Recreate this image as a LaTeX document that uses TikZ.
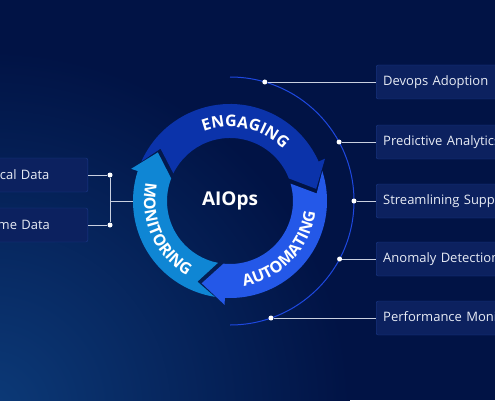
\documentclass[tikz,border=0pt]{standalone}
\usepackage{fontspec}
\setmainfont{Open Sans}
\usetikzlibrary{calc,decorations.text}

\definecolor{bgnavy}{HTML}{011345}
\definecolor{glow}{HTML}{0C3A78}
\definecolor{boxfill}{HTML}{0C215F}
\definecolor{boxedge}{HTML}{1B3A8A}
\definecolor{boxtext}{HTML}{E8ECF5}
\definecolor{linkgray}{HTML}{C9D0E0}
\definecolor{arcblue}{HTML}{1E48E0}
\definecolor{engblue}{HTML}{0B33AA}
\definecolor{autblue}{HTML}{2458E8}
\definecolor{monblue}{HTML}{0F86D4}

\tikzset{
  databox/.style={draw=boxedge, fill=boxfill, rounded corners=2pt,
    minimum height=34pt, inner xsep=7pt, text width=121pt, align=left,
    text=boxtext, font=\fontsize{13}{13}\selectfont},
  dot/.style={circle, fill=white, inner sep=0pt, minimum size=5pt},
  link/.style={draw=linkgray, line width=0.8pt},
  ringtext/.style={decorate, decoration={text along path, text align=center,
    text color=white}}
}

\begin{document}
\begin{tikzpicture}[x=1pt, y=1pt]
  \useasboundingbox (0,0) rectangle (495,400);
  \clip (0,0) rectangle (495,400);
  \fill[bgnavy] (0,0) rectangle (495,400);
  \shade[inner color=glow, outer color=bgnavy] (-10,-10) circle (360pt);

  \coordinate (c) at (230,199);
  \coordinate (rx) at (376,0);

  % outer thin arc
  \draw[arcblue, line width=1pt] ($(c)+(90:124)$) arc[start angle=90, end angle=-90, radius=124pt];

  % ring segments
  \begin{scope}[shift={(c)}]
    \fill[engblue] (156:97) arc[start angle=156, end angle=24, radius=97pt] -- (24:104) -- (8:87)
      -- (21:63) arc[start angle=21, end angle=154, radius=63pt] -- (143:87) -- cycle;
    \fill[autblue] (18:97) arc[start angle=18, end angle=-93, radius=97pt] -- (-93:104) -- (-109:87)
      -- (-96:63) arc[start angle=-96, end angle=16, radius=63pt] -- (5:87) -- cycle;
    \fill[monblue] (-99:97) arc[start angle=-99, end angle=-198, radius=97pt] -- (-198:104) -- (-214:87)
      -- (-201:63) arc[start angle=-201, end angle=-101, radius=63pt] -- (-112:87) -- cycle;

    \path[ringtext, decoration={text={|\fontsize{16}{16}\bfseries|ENGAGING}}]
      (115:74) arc[start angle=115, end angle=40, radius=74pt];
    \path[ringtext, decoration={text={|\fontsize{16}{16}\bfseries|AUTOMATING}}]
      (-92:86) arc[start angle=-92, end angle=4, radius=86pt];
    \path[ringtext, decoration={text={|\fontsize{16}{16}\bfseries|MONITORING}}]
      (156:86) arc[start angle=156, end angle=252, radius=86pt];
  \end{scope}

  \node[text=white, font=\fontsize{19}{19}\bfseries] (aiops) at (c) {AIOps};

  % left side
  \node[databox, anchor=east] (hist) at (88,225) {Historical Data};
  \node[databox, anchor=east] (real) at (88,175) {Real-time Data};
  \node[dot] (hd) at (110,225) {};
  \node[dot] (rd) at (110,175) {};
  \coordinate (lj) at (110,199);
  \coordinate (ringw) at ($(c)+(180:97)$);
  \draw[link] (hist.east) -- (hd);
  \draw[link] (real.east) -- (rd);
  \draw[link] (hd) -- (rd);
  \draw[link] (lj) -- (ringw);

  % right side
  \node[dot] (d1) at ($(c)+(73.7:124)$) {};
  \node[dot] (d2) at ($(c)+(28.4:124)$) {};
  \node[dot] (d3) at ($(c)+(0:124)$) {};
  \node[dot] (d4) at ($(c)+(-27.9:124)$) {};
  \node[dot] (d5) at ($(c)+(-70.7:124)$) {};

  \node[databox, anchor=west, text width=160pt] (devops) at (d1 -| rx) {Devops Adoption};
  \node[databox, anchor=west, text width=160pt] (pred) at (d2 -| rx) {Predictive Analytics};
  \node[databox, anchor=west, text width=160pt] (stream) at (d3 -| rx) {Streamlining Support};
  \node[databox, anchor=west, text width=160pt] (anom) at (d4 -| rx) {Anomaly Detection};
  \node[databox, anchor=west, text width=160pt] (perf) at (d5 -| rx) {Performance Monitoring};

  \draw[link] (d1) -- (devops);
  \draw[link] (d2) -- (pred);
  \draw[link] (d3) -- (stream);
  \draw[link] (d4) -- (anom);
  \draw[link] (d5) -- (perf);
\end{tikzpicture}
\end{document}
